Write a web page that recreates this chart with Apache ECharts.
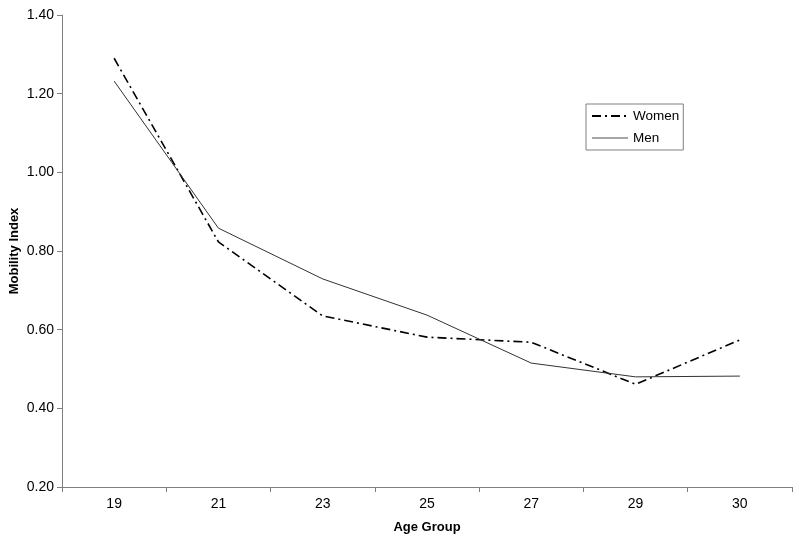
<!DOCTYPE html>
<html>
<head>
<meta charset="utf-8">
<script src="https://cdn.jsdelivr.net/npm/echarts@6/dist/echarts.min.js"></script>
<style>html,body{margin:0;padding:0;background:#fff}#c{width:800px;height:544px}</style>
</head>
<body>
<div id="c"></div>
<script>
const categories = ['19', '21', '23', '25', '27', '29', '30'];
const women = [1.290, 0.823, 0.635, 0.581, 0.568, 0.461, 0.574];
const men = [1.232, 0.858, 0.729, 0.637, 0.515, 0.480, 0.482];
const yTicks = [0.20, 0.40, 0.60, 0.80, 1.00, 1.20, 1.40];

const font = 'Liberation Sans, Arial, sans-serif';
const chart = echarts.init(document.getElementById('c'), null, {renderer: 'canvas'});
chart.setOption({
  animation: false,
  backgroundColor: '#fff',
  grid: {left: 62, right: 8, top: 15, bottom: 57, containLabel: false, outerBoundsMode: 'none'},
  legend: {
    orient: 'vertical', left: 586, top: 104,
    borderColor: '#808080', borderWidth: 1, padding: [5, 4, 5, 5],
    itemWidth: 36, itemHeight: 10, itemGap: 8,
    itemStyle: {color: 'transparent', borderWidth: 0, opacity: 0},
    textStyle: {fontFamily: font, fontSize: 13.5, color: '#000'},
    data: [{name: 'Women'}, {name: 'Men', lineStyle: {color: '#888', width: 1.5}}]
  },
  xAxis: {
    type: 'category', data: categories, boundaryGap: true,
    name: 'Age Group', nameLocation: 'middle', nameGap: 34, nameMoveOverlap: false,
    nameTextStyle: {fontFamily: font, fontSize: 13, fontWeight: 'bold', color: '#000'},
    axisLine: {lineStyle: {color: '#808080'}},
    axisTick: {show: true, length: 5, lineStyle: {color: '#808080'}},
    axisLabel: {fontFamily: font, fontSize: 14, color: '#000', margin: 10}
  },
  yAxis: {
    type: 'value', min: yTicks[0], max: yTicks[yTicks.length - 1], interval: 0.2,
    name: 'Mobility Index', nameLocation: 'middle', nameGap: 41, nameRotate: 90, nameMoveOverlap: false,
    nameTextStyle: {fontFamily: font, fontSize: 13, fontWeight: 'bold', color: '#000'},
    axisLine: {show: true, lineStyle: {color: '#808080'}},
    axisTick: {show: true, length: 5, lineStyle: {color: '#808080'}},
    splitLine: {show: false},
    axisLabel: {fontFamily: font, fontSize: 14, color: '#000', margin: 8,
      formatter: v => v.toFixed(2)}
  },
  series: [
    {name: 'Women', type: 'line', data: women, symbol: 'none',
     lineStyle: {color: '#000', width: 1.6, type: [9, 4, 2, 4]}, itemStyle: {color: '#000'}},
    {name: 'Men', type: 'line', data: men, symbol: 'none',
     lineStyle: {color: '#333', width: 1}, itemStyle: {color: '#555'}}
  ]
});
</script>
</body>
</html>
